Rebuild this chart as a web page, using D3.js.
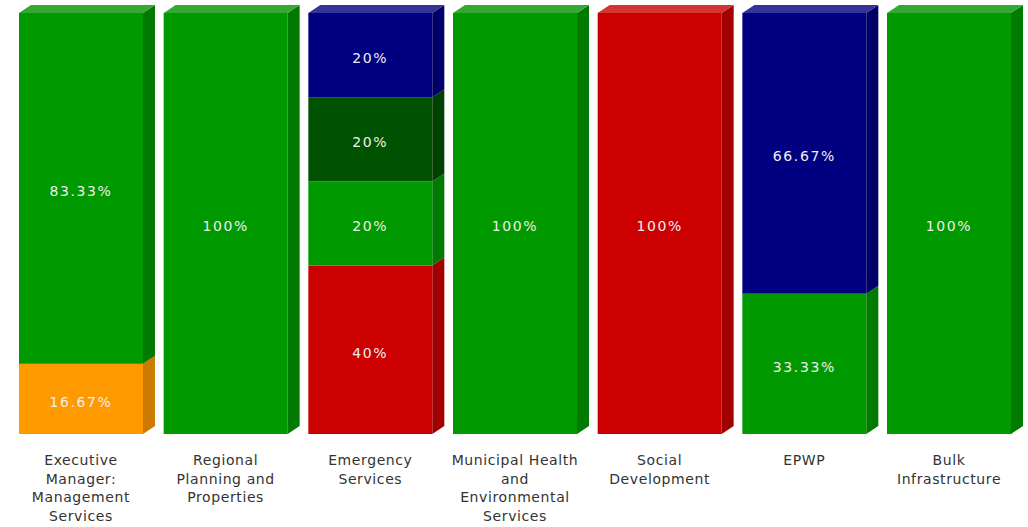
<!DOCTYPE html>
<html>
<head>
<meta charset="utf-8">
<script src="https://cdn.jsdelivr.net/npm/d3@7"></script>
<style>
  html, body { margin: 0; padding: 0; background: #ffffff; }
  svg { display: block; }
</style>
</head>
<body>
<svg id="chart" width="1028" height="527"></svg>
<script>
// ---- data ----
const categories = [
  "Executive Manager: Management Services",
  "Regional Planning and Properties",
  "Emergency Services",
  "Municipal Health and Environmental Services",
  "Social Development",
  "EPWP",
  "Bulk Infrastructure"
];
const categoryLines = [
  ["Executive", "Manager:", "Management", "Services"],
  ["Regional", "Planning and", "Properties"],
  ["Emergency", "Services"],
  ["Municipal Health", "and", "Environmental", "Services"],
  ["Social", "Development"],
  ["EPWP"],
  ["Bulk", "Infrastructure"]
];
// stack order bottom -> top
const seriesNames = ["Orange", "Red", "Green", "Dark Green", "Blue"];
const orangeValues    = [16.67, 0, 0,  0, 0,   0,     0];
const redValues       = [0,     0, 40, 0, 100, 0,     0];
const greenValues     = [83.33, 100, 20, 100, 0, 33.33, 100];
const darkGreenValues = [0,     0, 20, 0, 0,   0,     0];
const blueValues      = [0,     0, 20, 0, 0,   66.67, 0];
const seriesValues = [orangeValues, redValues, greenValues, darkGreenValues, blueValues];
const valueLabels = [
  ["16.67%", "", "", "", "", "", ""],
  ["", "", "40%", "", "100%", "", ""],
  ["83.33%", "100%", "20%", "100%", "", "33.33%", "100%"],
  ["", "", "20%", "", "", "", ""],
  ["", "", "20%", "", "", "66.67%", ""]
];

// ---- styles ----
const palette = {
  "Orange":     { front: "#ff9900", side: "#cc7a00", top: "#ffad33" },
  "Red":        { front: "#cc0000", side: "#a10000", top: "#d63333" },
  "Green":      { front: "#009900", side: "#007a00", top: "#33a833" },
  "Dark Green": { front: "#005200", side: "#004000", top: "#337533" },
  "Blue":       { front: "#000080", side: "#000066", top: "#333399" }
};
const depthX = 12, depthY = 8;

const svg = d3.select("#chart");

const x = d3.scaleBand()
  .domain(categories)
  .range([19, 1011])
  .paddingInner(0.143)
  .paddingOuter(0);

const y = d3.scaleLinear().domain([0, 100]).range([434, 13]);

// build stack table
const table = categories.map((c, i) => {
  const row = { category: c, idx: i };
  seriesNames.forEach((s, k) => row[s] = seriesValues[k][i]);
  return row;
});
const stacked = d3.stack().keys(seriesNames)(table);

const bw = x.bandwidth();

categories.forEach((cat, i) => {
  const g = svg.append("g");
  const x0 = x(cat), x1 = x0 + bw;
  const segs = [];
  stacked.forEach((layer, k) => {
    const d = layer[i];
    if (d[1] - d[0] > 0) segs.push({ key: layer.key, k, y0: d[0], y1: d[1] });
  });
  segs.forEach((s, j) => {
    const c = palette[s.key];
    const yb = y(s.y0), yt = y(s.y1);
    g.append("rect").attr("x", x0).attr("y", yt).attr("width", bw).attr("height", yb - yt)
      .attr("fill", c.front);
    g.append("polygon")
      .attr("points", [[x1, yb], [x1 + depthX, yb - depthY], [x1 + depthX, yt - depthY], [x1, yt]].map(p => p.join(",")).join(" "))
      .attr("fill", c.side);
    if (j === segs.length - 1) {
      g.append("polygon")
        .attr("points", [[x0, yt], [x0 + depthX, yt - depthY], [x1 + depthX, yt - depthY], [x1, yt]].map(p => p.join(",")).join(" "))
        .attr("fill", c.top);
    }
  });
  segs.forEach(s => {
    const lbl = valueLabels[s.k][i];
    if (!lbl) return;
    g.append("text")
      .attr("x", x0 + bw / 2)
      .attr("y", (y(s.y0) + y(s.y1)) / 2)
      .attr("dy", "0.55em")
      .attr("text-anchor", "middle")
      .attr("font-family", "DejaVu Sans, Verdana, sans-serif")
      .attr("font-size", 14)
      .attr("letter-spacing", "1.6px")
      .attr("fill", "#eeeeee")
      .text(lbl);
  });
  const t = svg.append("text")
    .attr("text-anchor", "middle")
    .attr("font-family", "DejaVu Sans, Verdana, sans-serif")
    .attr("font-size", 14)
    .attr("letter-spacing", "0.6px")
    .attr("fill", "#333333");
  categoryLines[i].forEach((line, li) => {
    t.append("tspan")
      .attr("x", x0 + bw / 2)
      .attr("y", 465 + li * 18.7)
      .text(line);
  });
});
</script>
</body>
</html>
